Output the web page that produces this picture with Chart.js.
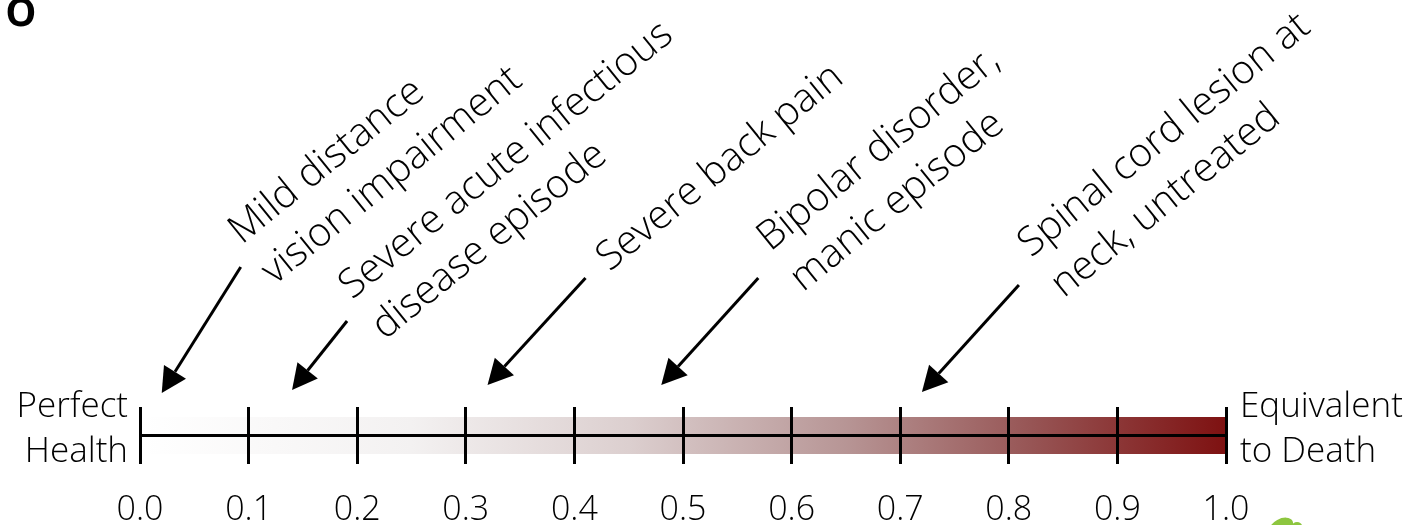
<!DOCTYPE html>
<html>
<head>
<meta charset="utf-8">
<script src="https://cdn.jsdelivr.net/npm/chart.js@4"></script>
<style>
  body { margin: 0; background: #fff; }
  #wrap { width: 1409px; height: 525px; position: relative; }
</style>
</head>
<body>
<div id="wrap"><canvas id="scale"></canvas></div>
<script>
// disability weight scale, 0 = perfect health, 1 = equivalent to death
var tickValues = [0, 0.1, 0.2, 0.3, 0.4, 0.5, 0.6, 0.7, 0.8, 0.9, 1.0];
var tickLabels = ["0.0", "0.1", "0.2", "0.3", "0.4", "0.5", "0.6", "0.7", "0.8", "0.9", "1.0"];
var conditions = [
	["Mild distance", "vision impairment"],
	["Severe acute infectious", "disease episode"],
	["Severe back pain"],
	["Bipolar disorder,", "manic episode"],
	["Spinal cord lesion at", "neck, untreated"]
];
var weights = [0.02, 0.14, 0.32, 0.48, 0.72];
var leftEnd = ["Perfect", "Health"];
var rightEnd = ["Equivalent", "to Death"];

// arrow geometry in px, relative to the tip (tail) and the tail (text start)
var arrowLayout = [
	{ tipY: 393, tail: [79, -126], text: [1, -22] },
	{ tipY: 390, tail: [55, -69], text: [5, -21] },
	{ tipY: 385, tail: [98, -107], text: [24, -6] },
	{ tipY: 385, tail: [97, -107], text: [12, -26] },
	{ tipY: 392, tail: [97, -107], text: [12, -27] }
];

var FONT = "'Open Sans', 'Noto Sans', sans-serif";

var bandFill = function(context) {
	var chart = context.chart;
	var area = chart.chartArea;
	if (!area) return null;
	var g = chart.ctx.createLinearGradient(area.left, 0, area.right, 0);
	g.addColorStop(0.0, "#ffffff");
	g.addColorStop(0.25, "#f3f1f1");
	g.addColorStop(0.45, "#dccfcf");
	g.addColorStop(0.65, "#b79595");
	g.addColorStop(0.82, "#975555");
	g.addColorStop(1.0, "#7e1111");
	return g;
};

var drawArrow = function(ctx, x1, y1, x2, y2) {
	var ang = Math.atan2(y2 - y1, x2 - x1);
	var len = 25, half = 13;
	var bx = x2 - Math.cos(ang) * len, by = y2 - Math.sin(ang) * len;
	ctx.beginPath();
	ctx.moveTo(x1, y1);
	ctx.lineTo(bx, by);
	ctx.lineWidth = 3;
	ctx.strokeStyle = "#000";
	ctx.stroke();
	ctx.beginPath();
	ctx.moveTo(x2, y2);
	ctx.lineTo(bx + Math.sin(ang) * half, by - Math.cos(ang) * half);
	ctx.lineTo(bx - Math.sin(ang) * half, by + Math.cos(ang) * half);
	ctx.closePath();
	ctx.fillStyle = "#000";
	ctx.fill();
};

var annotations = {
	id: "annotations",
	afterDraw: function(chart) {
		var ctx = chart.ctx;
		var xs = chart.scales.x;
		var area = chart.chartArea;
		ctx.save();

		// arrows + rotated labels
		var rot = -39 * Math.PI / 180;
		for (var i = 0; i < weights.length; i++) {
			var lay = arrowLayout[i];
			var tx = xs.getPixelForValue(weights[i]);
			var ty = lay.tipY;
			var sx = tx + lay.tail[0], sy = ty + lay.tail[1];
			drawArrow(ctx, sx, sy, tx, ty);

			ctx.save();
			ctx.translate(sx + lay.text[0], sy + lay.text[1]);
			ctx.rotate(rot);
			ctx.font = "300 40px " + FONT;
			ctx.fillStyle = "#000";
			ctx.textAlign = "left";
			ctx.textBaseline = "alphabetic";
			for (var j = 0; j < conditions[i].length; j++) {
				ctx.fillText(conditions[i][j], 0, j * 52);
			}
			ctx.restore();
		}

		// end labels
		ctx.font = "300 35px " + FONT;
		ctx.fillStyle = "#000";
		ctx.textBaseline = "alphabetic";
		ctx.textAlign = "right";
		ctx.fillText(leftEnd[0], area.left - 12, 417);
		ctx.fillText(leftEnd[1], area.left - 12, 462);
		ctx.textAlign = "left";
		ctx.fillText(rightEnd[0], area.right + 14, 417);
		ctx.fillText(rightEnd[1], area.right + 14, 462);

		// panel letter, cut at the top-left
		ctx.font = "600 52px " + FONT;
		ctx.fillText("o", 5, 26);

		// bit of green logo at the bottom edge
		ctx.fillStyle = "#8dc63f";
		ctx.beginPath();
		ctx.ellipse(1281, 527, 13, 8, -0.5, 0, Math.PI * 2);
		ctx.fill();
		ctx.beginPath();
		ctx.ellipse(1297, 526, 5, 4, 0, 0, Math.PI * 2);
		ctx.fill();

		ctx.restore();
	}
};

var line = function(y) {
	return [{ x: tickValues[0], y: y }, { x: tickValues[tickValues.length - 1], y: y }];
};

var chart = new Chart(document.getElementById("scale"), {
	type: "line",
	data: {
		datasets: [
			{ data: line(0), fill: false, borderColor: "#000", borderWidth: 3, pointRadius: 0, order: 0 },
			{ data: line(1), fill: "+1", backgroundColor: bandFill, borderWidth: 0, pointRadius: 0, order: 1 },
			{ data: line(-1), fill: false, borderWidth: 0, pointRadius: 0, order: 2 }
		]
	},
	options: {
		responsive: true,
		maintainAspectRatio: false,
		animation: false,
		layout: { padding: { left: 140, right: 183, top: 407, bottom: 0 } },
		plugins: { legend: { display: false }, tooltip: { enabled: false } },
		scales: {
			x: {
				type: "linear",
				min: 0,
				max: 1,
				afterBuildTicks: function(scale) {
					scale.ticks = tickValues.map(function(v) { return { value: v }; });
				},
				afterFit: function(scale) { scale.height = 61; },
				ticks: {
					callback: function(v, idx) { return tickLabels[idx]; },
					color: "#000",
					font: { family: FONT, size: 34, weight: 300 },
					padding: 26,
					maxRotation: 0,
					autoSkip: false
				},
				grid: { color: "#000", lineWidth: 3, drawTicks: false, z: 1 },
				border: { display: false }
			},
			y: {
				type: "linear",
				min: -1.54,
				max: 1.54,
				display: false
			}
		}
	},
	plugins: [annotations]
});
</script>
</body>
</html>
